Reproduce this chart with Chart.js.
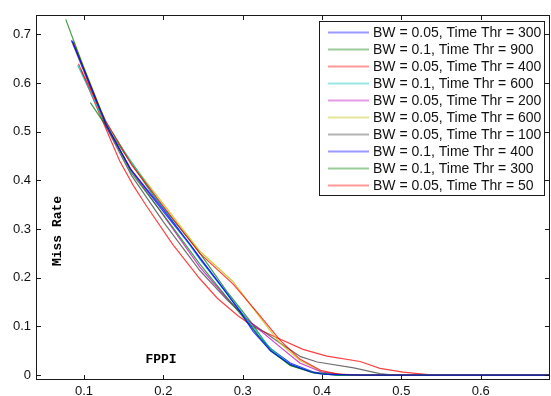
<!DOCTYPE html>
<html>
<head>
<meta charset="utf-8">
<script src="https://cdn.jsdelivr.net/npm/chart.js@4/dist/chart.umd.min.js"></script>
<style>
  body { margin: 0; background: #fff; }
  canvas { display: block; }
</style>
</head>
<body>
<canvas id="myChart" width="551" height="396"></canvas>
<script>
// SERIES LABELS
var labels = [
  "BW = 0.05, Time Thr = 300",
  "BW = 0.1, Time Thr = 900",
  "BW = 0.05, Time Thr = 400",
  "BW = 0.1, Time Thr = 600",
  "BW = 0.05, Time Thr = 200",
  "BW = 0.05, Time Thr = 600",
  "BW = 0.05, Time Thr = 100",
  "BW = 0.1, Time Thr = 400",
  "BW = 0.1, Time Thr = 300",
  "BW = 0.05, Time Thr = 50",
];

// SERIES VALUES [FPPI, miss rate]
var bw005_t300 = [[0.085,0.687],[0.1,0.628],[0.128,0.515],[0.158,0.425],[0.2,0.34],[0.234,0.268],[0.246,0.24],[0.272,0.185],[0.297,0.13],[0.313,0.09],[0.335,0.05],[0.36,0.022],[0.385,0.007],[0.4,0.002],[0.45,0],[0.69,0]];
var bw01_t900 = [[0.077,0.731],[0.1,0.63],[0.128,0.515],[0.16,0.415],[0.2,0.33],[0.246,0.228],[0.28,0.16],[0.31,0.1],[0.335,0.05],[0.36,0.02],[0.39,0.005],[0.42,0],[0.69,0]];
var bw005_t400 = [[0.096,0.628],[0.128,0.52],[0.16,0.432],[0.2,0.347],[0.246,0.25],[0.288,0.187],[0.322,0.122],[0.347,0.072],[0.372,0.033],[0.398,0.01],[0.42,0.002],[0.45,0],[0.69,0]];
var bw01_t600 = [[0.092,0.637],[0.12,0.54],[0.149,0.464],[0.2,0.343],[0.246,0.238],[0.28,0.168],[0.31,0.105],[0.335,0.055],[0.36,0.022],[0.39,0.005],[0.42,0],[0.69,0]];
var bw005_t200 = [[0.086,0.685],[0.128,0.513],[0.16,0.42],[0.2,0.328],[0.246,0.222],[0.28,0.158],[0.31,0.108],[0.347,0.058],[0.372,0.025],[0.4,0.006],[0.43,0],[0.69,0]];
var bw005_t600 = [[0.087,0.685],[0.128,0.518],[0.16,0.436],[0.2,0.352],[0.246,0.255],[0.288,0.192],[0.322,0.118],[0.347,0.066],[0.372,0.03],[0.4,0.007],[0.43,0.001],[0.46,0],[0.69,0]];
var bw005_t100 = [[0.084,0.688],[0.128,0.51],[0.16,0.41],[0.2,0.315],[0.246,0.215],[0.28,0.155],[0.31,0.108],[0.347,0.066],[0.373,0.038],[0.394,0.027],[0.44,0.015],[0.473,0.003],[0.49,0],[0.69,0]];
var bw01_t400 = [[0.087,0.68],[0.128,0.512],[0.16,0.42],[0.2,0.336],[0.24,0.255],[0.27,0.19],[0.3,0.125],[0.32,0.08],[0.335,0.055],[0.36,0.025],[0.39,0.006],[0.41,0.001],[0.45,0],[0.69,0]];
var bw01_t300 = [[0.108,0.56],[0.145,0.47],[0.187,0.37],[0.242,0.26],[0.28,0.172],[0.31,0.11],[0.335,0.052],[0.36,0.02],[0.39,0.004],[0.42,0],[0.69,0]];
var bw005_t50 = [[0.093,0.64],[0.12,0.535],[0.145,0.44],[0.162,0.39],[0.179,0.347],[0.212,0.268],[0.246,0.198],[0.268,0.158],[0.294,0.122],[0.313,0.1],[0.339,0.08],[0.376,0.053],[0.406,0.039],[0.448,0.028],[0.473,0.014],[0.502,0.006],[0.54,0],[0.69,0]];

// TICK LABELS
var xTicks = [0.1, 0.2, 0.3, 0.4, 0.5, 0.6];
var yTicks = [0, 0.1, 0.2, 0.3, 0.4, 0.5, 0.6, 0.7];

var series = [bw005_t300, bw01_t900, bw005_t400, bw01_t600, bw005_t200,
              bw005_t600, bw005_t100, bw01_t400, bw01_t300, bw005_t50];

// matlab-ish color order
var rgb = ["0,0,255", "0,128,0", "255,0,0", "0,191,191", "191,0,191",
           "191,191,0", "64,64,64", "0,0,255", "0,128,0", "255,0,0"];

var datasets = series.map(function (s, i) {
  return {
    label: labels[i],
    data: s.map(function (p) { return { x: p[0], y: p[1] }; }),
    borderColor: "rgba(" + rgb[i] + ",0.75)",
    borderWidth: 1.2,
    pointRadius: 0,
    fill: false,
    tension: 0,
  };
});

// frame, inward ticks, axis titles and boxed legend
var matlabLook = {
  id: "matlabLook",
  afterDraw: function (chart) {
    var ctx = chart.ctx;
    var a = chart.chartArea;
    var xs = chart.scales.x, ys = chart.scales.y;
    ctx.save();
    ctx.strokeStyle = "#1a1a1a";
    ctx.lineWidth = 1;
    ctx.strokeRect(a.left + 0.5, a.top + 0.5, a.right - a.left - 1, a.bottom - a.top - 1);
    ctx.beginPath();
    xTicks.forEach(function (v) {
      var px = Math.round(xs.getPixelForValue(v)) + 0.5;
      ctx.moveTo(px, a.bottom); ctx.lineTo(px, a.bottom - 5);
      ctx.moveTo(px, a.top); ctx.lineTo(px, a.top + 5);
    });
    yTicks.forEach(function (v) {
      var py = Math.round(ys.getPixelForValue(v)) + 0.5;
      ctx.moveTo(a.left, py); ctx.lineTo(a.left + 5, py);
      ctx.moveTo(a.right, py); ctx.lineTo(a.right - 5, py);
    });
    ctx.stroke();

    // axis titles sit inside the plot
    ctx.fillStyle = "#000";
    ctx.font = "bold 13px 'Liberation Mono', 'DejaVu Sans Mono', monospace";
    ctx.textAlign = "center";
    ctx.textBaseline = "middle";
    ctx.fillText("FPPI", a.left + 125, a.bottom - 20);
    ctx.translate(a.left + 22, a.top + 216);
    ctx.rotate(-Math.PI / 2);
    ctx.fillText("Miss Rate", 0, 0);
    ctx.restore();

    // legend
    ctx.save();
    var bx = a.right - 231, by = a.top + 6, bw = 225, bh = 174;
    ctx.fillStyle = "#fff";
    ctx.fillRect(bx, by, bw, bh);
    ctx.strokeStyle = "#1a1a1a";
    ctx.lineWidth = 1;
    ctx.strokeRect(bx + 0.5, by + 0.5, bw, bh);
    ctx.font = "14px 'Liberation Sans', Arial, sans-serif";
    ctx.textAlign = "left";
    ctx.textBaseline = "middle";
    labels.forEach(function (t, i) {
      var ry = by + 11.5 + i * 17;
      ctx.strokeStyle = "rgba(" + rgb[i] + ",0.4)";
      ctx.lineWidth = 2;
      ctx.beginPath();
      ctx.moveTo(bx + 9, ry); ctx.lineTo(bx + 50, ry);
      ctx.stroke();
      ctx.fillStyle = "#111";
      ctx.fillText(t, bx + 54, ry + 0.5);
    });
    ctx.restore();
  },
};

new Chart("myChart", {
  type: "line",
  data: { datasets: datasets },
  options: {
    responsive: false,
    animation: false,
    layout: { padding: { top: 15, right: 1, left: 0, bottom: 0 } },
    plugins: { legend: { display: false }, tooltip: { enabled: false } },
    scales: {
      x: {
        type: "linear",
        min: 0.0395,
        max: 0.6873,
        grid: { display: false, drawTicks: false },
        border: { display: false },
        afterBuildTicks: function (s) { s.ticks = xTicks.map(function (v) { return { value: v }; }); },
        afterFit: function (s) { s.height = 16; },
        ticks: {
          padding: 4,
          maxRotation: 0,
          color: "#111",
          font: { family: "'Liberation Sans', Arial, sans-serif", size: 13 },
          callback: function (v) { return String(v); },
        },
      },
      y: {
        type: "linear",
        min: -0.01,
        max: 0.74,
        grid: { display: false, drawTicks: false },
        border: { display: false },
        afterBuildTicks: function (s) { s.ticks = yTicks.map(function (v) { return { value: v }; }); },
        afterFit: function (s) { s.width = 36; },
        ticks: {
          padding: 5,
          color: "#111",
          font: { family: "'Liberation Sans', Arial, sans-serif", size: 13 },
          callback: function (v) { return String(v); },
        },
      },
    },
  },
  plugins: [matlabLook],
});
</script>
</body>
</html>
